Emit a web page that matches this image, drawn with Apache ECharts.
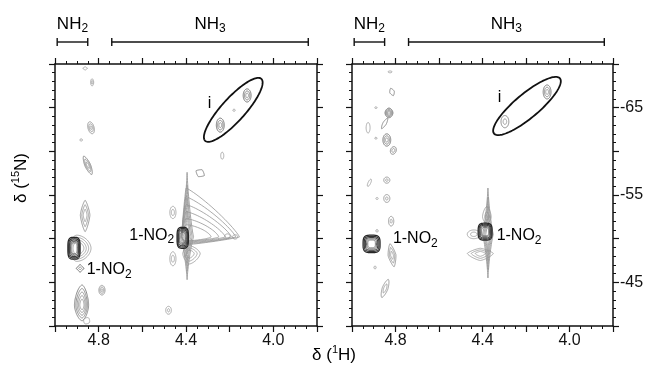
<!DOCTYPE html>
<html><head><meta charset="utf-8">
<script src="https://cdn.jsdelivr.net/npm/echarts@6/dist/echarts.min.js"></script>
<style>html,body{margin:0;padding:0;background:#fff}#c{width:647px;height:371px}</style>
</head><body><div id="c"></div>
<script>
// ---- data (ppm) ----
const xTickLabels = ['4.8', '4.4', '4.0'];
const yTickLabels = ['-65', '-55', '-45'];
// peak: [x(1H), y(15N), leftExt, rightExt, upExt, downExt, shapeExp, levels, innerScale, intensity, tiltDeg]
const leftPeaks = [
  [4.862, -69.5, 0.011, 0.011, 0.2, 0.2, 1.0, 1, 1, 0, 0],
  [4.830, -67.9, 0.007, 0.007, 0.4, 0.4, 2, 2, 0.5, 0, 0],
  [4.835, -62.7, 0.014, 0.014, 0.7, 0.7, 2, 3, 0.3, 0.1, -15],
  [4.880, -61.3, 0.006, 0.006, 0.12, 0.12, 2, 1, 1, 0, 0],
  [4.850, -58.4, 0.013, 0.013, 1.15, 1.15, 1.6, 3, 0.35, 0.2, -24],
  [4.395, -50.2, 0.03, 0.03, 7.4, 4.9, 0.8, 4, 0.4, 0.05, 0],
  [4.400, -50.2, 0.02, 0.245, 5.6, 0.9, 1.15, 1, 1, 0, 0],
  [4.400, -50.2, 0.02, 0.228, 4.6, 0.8, 1.2, 1, 1, 0, 0],
  [4.400, -50.2, 0.02, 0.208, 3.7, 0.7, 1.25, 1, 1, 0, 0],
  [4.400, -50.2, 0.02, 0.180, 2.9, 0.6, 1.3, 1, 1, 0, 0],
  [4.400, -50.2, 0.02, 0.150, 2.1, 0.5, 1.4, 1, 1, 0, 0],
  [4.400, -50.2, 0.02, 0.115, 1.4, 0.45, 1.5, 1, 1, 0, 0],
  [4.175, -50.2, 0.012, 0.012, 0.25, 0.25, 2, 1, 1, 0, 0],
  [4.210, -50.3, 0.012, 0.012, 0.25, 0.25, 2, 1, 1, 0, 0],
  [4.385, -48.3, 0.03, 0.05, 0.9, 1.2, 1.5, 3, 0.45, 0, 0],
  [4.415, -50.1, 0.026, 0.026, 1.2, 1.2, 3.5, 5, 0.5, 0.9, 0],
  [4.460, -53.0, 0.014, 0.014, 0.7, 0.7, 2, 2, 0.5, 0, 0],
  [4.460, -47.7, 0.014, 0.014, 0.8, 0.8, 2, 2, 0.5, 0, 0],
  [4.480, -41.8, 0.013, 0.013, 0.45, 0.45, 2, 2, 0.4, 0, 0],
  [4.234, -59.5, 0.007, 0.007, 0.4, 0.4, 2, 1, 1, 0, 0],
  [4.335, -57.5, 0.022, 0.022, 0.45, 0.45, 1.2, 1, 1, 0.2, 30],
  [4.120, -66.4, 0.018, 0.018, 0.75, 0.75, 2, 3, 0.35, 0.35, 0],
  [4.243, -63.0, 0.018, 0.018, 0.8, 0.8, 2, 3, 0.35, 0.35, 0],
  [4.180, -64.7, 0.005, 0.005, 0.12, 0.12, 2, 1, 1, 0, 0],
  [4.862, -52.7, 0.022, 0.022, 1.7, 1.9, 1.3, 3, 0.4, 0.1, 0],
  [4.900, -48.9, 0.035, 0.065, 1.5, 1.5, 1.8, 4, 0.5, 0, 0],
  [4.913, -48.9, 0.028, 0.028, 1.25, 1.25, 3.5, 5, 0.5, 0.9, 0],
  [4.885, -46.6, 0.018, 0.018, 0.45, 0.45, 1.0, 2, 0.4, 0.4, 0],
  [4.876, -42.4, 0.035, 0.03, 2.3, 1.8, 1.6, 5, 0.3, 0.2, 0],
  [4.855, -40.6, 0.015, 0.015, 0.4, 0.4, 1.5, 1, 1, 0, 30],
  [4.785, -44.1, 0.014, 0.014, 0.55, 0.55, 2, 3, 0.3, 0.1, 0]
];
const rightPeaks = [
  [4.825, -69.1, 0.009, 0.009, 0.1, 0.1, 2, 1, 1, 0, 0],
  [4.816, -66.8, 0.011, 0.011, 0.45, 0.45, 1.3, 1, 1, 0.2, -20],
  [4.890, -65.0, 0.005, 0.005, 0.1, 0.1, 2, 1, 1, 0, 0],
  [4.830, -64.4, 0.018, 0.018, 0.55, 0.55, 1.8, 4, 0.3, 0.35, 0],
  [4.850, -63.2, 0.008, 0.008, 0.7, 0.7, 1.5, 1, 1, 0.2, 30],
  [4.926, -62.7, 0.009, 0.009, 0.6, 0.6, 2, 1, 1, 0, 0],
  [4.890, -61.5, 0.005, 0.005, 0.1, 0.1, 2, 1, 1, 0, 0],
  [4.840, -61.3, 0.018, 0.018, 0.7, 0.7, 2, 3, 0.35, 0.3, 0],
  [4.810, -60.1, 0.013, 0.013, 0.45, 0.45, 2, 2, 0.5, 0.2, 20],
  [4.920, -56.4, 0.006, 0.006, 0.45, 0.45, 2, 1, 1, 0, 25],
  [4.840, -56.7, 0.014, 0.014, 0.35, 0.35, 2, 2, 0.4, 0.1, 0],
  [4.840, -54.6, 0.014, 0.014, 0.45, 0.45, 2, 2, 0.4, 0.1, 0],
  [4.885, -54.6, 0.005, 0.005, 0.12, 0.12, 2, 1, 1, 0, 0],
  [4.820, -52.0, 0.012, 0.012, 0.55, 0.55, 2, 2, 0.4, 0.1, 0],
  [4.885, -50.9, 0.005, 0.005, 0.15, 0.15, 2, 1, 1, 0, 0],
  [4.910, -49.4, 0.039, 0.039, 1.0, 1.0, 3.5, 5, 0.45, 0.9, 0],
  [4.816, -48.1, 0.018, 0.018, 1.35, 1.35, 1.3, 3, 0.35, 0.1, -10],
  [4.894, -46.7, 0.005, 0.005, 0.15, 0.15, 2, 1, 1, 0, 0],
  [4.848, -44.3, 0.013, 0.013, 1.1, 1.1, 1.6, 2, 0.5, 0.1, 20],
  [4.375, -50.5, 0.025, 0.025, 5.3, 5.0, 0.8, 4, 0.4, 0.05, 0],
  [4.440, -50.5, 0.03, 0.03, 0.5, 0.5, 2, 2, 0.5, 0, 0],
  [4.410, -48.3, 0.06, 0.06, 0.6, 0.8, 1.3, 3, 0.4, 0, 0],
  [4.380, -52.5, 0.02, 0.02, 1.2, 0.8, 1.5, 2, 0.5, 0, 0],
  [4.388, -50.8, 0.032, 0.032, 0.97, 0.97, 3.5, 5, 0.5, 0.9, 0],
  [4.103, -66.8, 0.018, 0.018, 0.8, 0.8, 2, 3, 0.35, 0.3, 0],
  [4.297, -63.4, 0.018, 0.018, 0.7, 0.7, 2, 2, 0.45, 0.2, 0]
];
// region "i": major-axis end points [x1, y1, x2, y2]
const leftRegion = [[4.055, -68.3, 4.312, -61.2]];
const rightRegion = [[4.044, -68.35, 4.347, -62.03]];
// annotations [x, y, text] (text starts at x)
const leftNotes = [[4.660, -50.4, '1-NO2'], [4.855, -46.5, '1-NO2'], [4.300, -65.5, 'i']];
const rightNotes = [[4.812, -50.0, '1-NO2'], [4.335, -50.3, '1-NO2'], [4.330, -66.1, 'i']];
// proton range bands
const bandRanges = [[4.99, 4.85], [4.74, 3.84]];
const bandNames = ['NH2', 'NH3'];

// ---- rendering ----
const FONT = 'Liberation Sans, Arial, Helvetica, sans-serif';
const INK = '#111';
const richSub = {
  m: {fontSize: 16, lineHeight: 22, fontFamily: FONT, color: INK},
  s: {fontSize: 12, lineHeight: 12, verticalAlign: 'bottom', fontFamily: FONT, color: INK}
};
const richBand = {
  m: {fontSize: 17, lineHeight: 22, fontFamily: FONT, color: INK},
  s: {fontSize: 12, lineHeight: 12, verticalAlign: 'bottom', fontFamily: FONT, color: INK}
};
const toRich = t => /\d$/.test(t) ? '{m|' + t.slice(0, -1) + '}{s|' + t.slice(-1) + '}' : '{m|' + t + '}';

function peakItem(params, api) {
  const c = api.coord([api.value(0), api.value(1)]);
  const sz = api.size([1, 1]);
  const sx = Math.abs(sz[0]), sy = Math.abs(sz[1]);
  const L = api.value(2) * sx, R = api.value(3) * sx, U = api.value(4) * sy, D = api.value(5) * sy;
  const p = api.value(6), n = api.value(7), inner = api.value(8), inten = api.value(9);
  const rot = api.value(10) * Math.PI / 180;
  const e = 2 / p, cr = Math.cos(rot), sr = Math.sin(rot);
  const children = [];
  for (let k = 0; k < n; k++) {
    const f = n === 1 ? 0 : k / (n - 1);
    const s = 1 - (1 - inner) * f;
    const pts = [];
    for (let i = 0; i < 96; i++) {
      const t = i / 96 * 2 * Math.PI;
      const ct = Math.cos(t), st = Math.sin(t);
      const px = Math.sign(ct) * Math.pow(Math.abs(ct), e) * (ct > 0 ? R : L) * s;
      const py = Math.sign(st) * Math.pow(Math.abs(st), e) * (st > 0 ? D : U) * s;
      pts.push([c[0] + px * cr - py * sr, c[1] + px * sr + py * cr]);
    }
    const g = Math.round(150 - inten * 125 * (1 - 0.45 * f));
    children.push({
      type: 'polygon', shape: {points: pts},
      style: {fill: 'none', stroke: 'rgb(' + g + ',' + g + ',' + g + ')', lineWidth: 0.8 + 0.5 * inten * (1 - f)}
    });
  }
  return {type: 'group', children};
}

function regionItem(params, api) {
  const a = api.coord([api.value(0), api.value(1)]);
  const b = api.coord([api.value(2), api.value(3)]);
  const cx = (a[0] + b[0]) / 2, cy = (a[1] + b[1]) / 2;
  const dx = (b[0] - a[0]) / 2, dy = (b[1] - a[1]) / 2;
  const A = Math.hypot(dx, dy), ang = Math.atan2(dy, dx);
  const B = A * 0.28;
  const pts = [];
  for (let i = 0; i < 120; i++) {
    const t = i / 120 * 2 * Math.PI;
    const u = A * Math.cos(t), v = B * Math.sin(t);
    pts.push([cx + u * Math.cos(ang) - v * Math.sin(ang), cy + u * Math.sin(ang) + v * Math.cos(ang)]);
  }
  return {type: 'polygon', shape: {points: pts}, style: {fill: 'none', stroke: INK, lineWidth: 1.8}};
}

function bandItem(params, api) {
  const a = api.coord([api.value(0), -70]);
  const b = api.coord([api.value(1), -70]);
  const y = a[1] - 22;
  const st = {stroke: INK, lineWidth: 1.4};
  return {type: 'group', children: [
    {type: 'line', shape: {x1: a[0], y1: y, x2: b[0], y2: y}, style: st},
    {type: 'line', shape: {x1: a[0], y1: y - 4, x2: a[0], y2: y + 4}, style: st},
    {type: 'line', shape: {x1: b[0], y1: y - 4, x2: b[0], y2: y + 4}, style: st},
    {type: 'text', style: {text: toRich(bandNames[params.dataIndex]), rich: richBand,
      x: (a[0] + b[0]) / 2, y: y - 18, align: 'center', verticalAlign: 'middle'}}
  ]};
}

function makeNoteItem(notes) {
  return function (params, api) {
    const d = notes[params.dataIndex];
    const c = api.coord([d[0], d[1]]);
    return {type: 'text', style: {text: toRich(d[2]), rich: richSub,
      x: c[0], y: c[1], align: 'left', verticalAlign: 'middle'}};
  };
}

function xAx(gi, pos, showLabel) {
  return {
    type: 'value', gridIndex: gi, position: pos, min: 3.8, max: 5.0, interval: 0.2, inverse: true,
    axisLine: {show: true, onZero: false, lineStyle: {color: INK, width: 1.5}},
    axisTick: {show: true, inside: false, length: 6, lineStyle: {color: INK, width: 1.2}},
    minorTick: {show: true, splitNumber: 4, length: 3, lineStyle: {color: INK, width: 1}},
    splitLine: {show: false}, minorSplitLine: {show: false},
    axisLabel: {show: showLabel, margin: 7, color: INK, fontSize: 16, fontFamily: FONT,
      formatter: v => { const s = (+v).toFixed(1); return xTickLabels.includes(s) ? s : ''; }}
  };
}
function yAx(gi, pos, showLabel) {
  return {
    type: 'value', gridIndex: gi, position: pos, min: -70, max: -40, interval: 5, inverse: true,
    axisLine: {show: true, onZero: false, lineStyle: {color: INK, width: 1.5}},
    axisTick: {show: true, inside: false, length: 6, lineStyle: {color: INK, width: 1.2}},
    minorTick: {show: true, splitNumber: 5, length: 3, lineStyle: {color: INK, width: 1}},
    splitLine: {show: false}, minorSplitLine: {show: false},
    axisLabel: {show: showLabel, margin: 7, color: INK, fontSize: 16, fontFamily: FONT,
      formatter: v => { const s = String(Math.round(v)); return yTickLabels.includes(s) ? s : ''; }}
  };
}

function panelSeries(idx, peaks, region, notes) {
  const xi = idx * 2, yi = idx * 2;
  return [
    {type: 'custom', xAxisIndex: xi, yAxisIndex: yi, renderItem: peakItem, data: peaks,
      encode: {x: 0, y: 1}, clip: true, silent: true, z: 2},
    {type: 'custom', xAxisIndex: xi, yAxisIndex: yi, renderItem: regionItem, data: region,
      encode: {x: [0, 2], y: [1, 3]}, clip: true, silent: true, z: 3},
    {type: 'custom', xAxisIndex: xi, yAxisIndex: yi, renderItem: bandItem, data: bandRanges,
      encode: {x: [0, 1]}, clip: false, silent: true, z: 3},
    {type: 'custom', xAxisIndex: xi, yAxisIndex: yi, renderItem: makeNoteItem(notes),
      data: notes.map(d => [d[0], d[1]]), encode: {x: 0, y: 1}, clip: false, silent: true, z: 4}
  ];
}

const chart = echarts.init(document.getElementById('c'), null, {renderer: 'canvas'});
const titleRich = {a: {fontSize: 17, lineHeight: 22, fontFamily: FONT, color: INK},
                   s: {fontSize: 11, lineHeight: 11, verticalAlign: 'top', fontFamily: FONT, color: INK}};
chart.setOption({
  backgroundColor: '#fff',
  animation: false,
  grid: [
    {left: 55, top: 64, width: 262, height: 262},
    {left: 352, top: 64, width: 261, height: 262}
  ],
  xAxis: [xAx(0, 'bottom', true), xAx(0, 'top', false), xAx(1, 'bottom', true), xAx(1, 'top', false)],
  yAxis: [yAx(0, 'left', false), yAx(0, 'right', false), yAx(1, 'left', false), yAx(1, 'right', true)],
  series: [].concat(
    panelSeries(0, leftPeaks, leftRegion, leftNotes),
    panelSeries(1, rightPeaks, rightRegion, rightNotes)
  ),
  graphic: [
    {type: 'text', x: 21, y: 178, rotation: Math.PI / 2,
      style: {text: '{a|δ (}{s|15}{a|N)}', align: 'center', verticalAlign: 'middle', rich: titleRich}},
    {type: 'text', x: 334, y: 355,
      style: {text: '{a|δ (}{s|1}{a|H)}', align: 'center', verticalAlign: 'middle', rich: titleRich}}
  ]
});
</script>
</body></html>
